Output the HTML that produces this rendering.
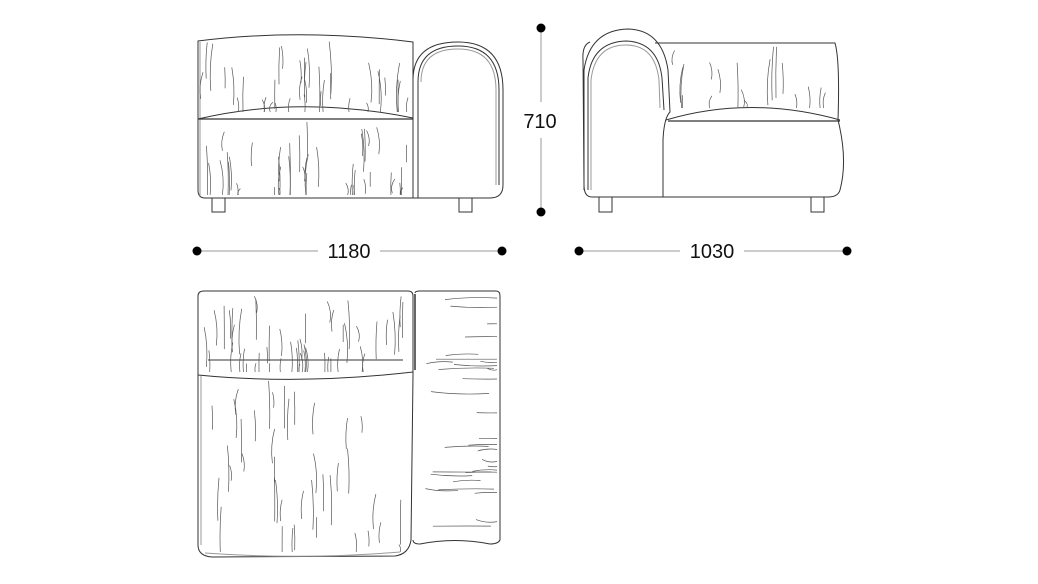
<!DOCTYPE html>
<html><head><meta charset="utf-8"><style>
html,body{margin:0;padding:0;background:#fff;}
svg{display:block;}
text{font-family:"Liberation Sans",Arial,sans-serif;font-size:20px;fill:#111;}
</style></head><body>
<svg id="s" width="1038" height="584" viewBox="0 0 1038 584" xmlns="http://www.w3.org/2000/svg">
<g fill="none" stroke="#333" stroke-width="1">
<path d="M198,41 Q300,28 413,42 L413,198 L205,198 Q198,198 198,190 Z"/>
<line x1="200" y1="42" x2="200" y2="196" stroke="#999"/>
<path d="M198,119 Q300,95 413,118"/>
<line x1="198" y1="119" x2="413" y2="119" stroke-width="1.3"/>
<path d="M413,198 L413,80 Q413,42 458,42 Q503,42 503,90 L503,185 Q503,198 490,198 Z"/>
<path d="M418,198 L418,82 Q418,46 458,46 Q499,46 499,90 L499,185"/>
<path d="M421,82 Q421,49 458,49 Q496,49 496,90 L496,185" stroke="#999"/>
<rect x="212" y="198" width="13" height="14"/>
<rect x="459" y="198" width="13" height="14"/>
<path d="M655,43 L835,43 Q840,60 838,120 Q848,160 840,190 Q838,197 828,197 L592,197 Q584,197 584,185 L583,60 Q582,45 590,42"/>
<path d="M666,120 Q750,95 840,120"/>
<line x1="668" y1="121" x2="840" y2="121" stroke-width="1.3"/>
<path d="M584,190 L584,70 Q590,30 628,29 Q662,30 668,70 L670,112 Q664,118 663,140 L663,197"/>
<path d="M588,190 L588,78 Q592,42 626,41 Q658,42 662,78 L664,110" />
<path d="M591,190 L591,80 Q595,45 626,45 Q655,45 659,80 L660,108" stroke="#999"/>
<rect x="599" y="197" width="13" height="15"/>
<rect x="811" y="197" width="13" height="15"/>
<path d="M198,296 Q198,291 204,291 L408,291 Q413,291 413,296 L413,375 L411,540 Q409,554 395,556 L212,557 Q198,556 198,545 Z"/>
<line x1="201" y1="376" x2="201" y2="545" stroke="#999"/>
<path d="M198,375 Q300,385 413,372"/>
<path d="M208,360 L403,360"/>
<path d="M205,553 Q300,560 400,552" stroke="#999"/>
<path d="M415,293 Q415,291 420,291 L496,291 Q500,291 500,296 L500,540 Q498,544 490,544 Q455,537 420,544 Q413,544 413,540"/>
<line x1="415" y1="294" x2="415" y2="370" stroke-width="1.5"/>
<line x1="541" y1="28" x2="541" y2="102" stroke="#999"/>
<line x1="541" y1="138" x2="541" y2="212" stroke="#999"/>
<line x1="197" y1="251" x2="318" y2="251" stroke="#999"/>
<line x1="380" y1="251" x2="502" y2="251" stroke="#999"/>
<line x1="579" y1="251" x2="680" y2="251" stroke="#999"/>
<line x1="744" y1="251" x2="847" y2="251" stroke="#999"/>
</g>
<g fill="#000">
<circle cx="541" cy="28" r="4.5"/><circle cx="541" cy="212" r="4.5"/>
<circle cx="197" cy="251" r="4.5"/><circle cx="502" cy="251" r="4.5"/>
<circle cx="579" cy="251" r="4.5"/><circle cx="847" cy="251" r="4.5"/>
</g>
<text x="540" y="128" text-anchor="middle">710</text>
<text x="349" y="258" text-anchor="middle">1180</text>
<text x="712" y="258" text-anchor="middle">1030</text>
<g id="h" fill="none" stroke="#555" stroke-width="0.7"></g>
</svg>
<script>
var g=document.getElementById('h'),seed=11;
function r(){seed=(seed*16807)%2147483647;return (seed-1)/2147483646;}
function vert(x0,x1,y0,y1,n){for(var i=0;i<n;i++){var x=x0+r()*(x1-x0),y=y0+r()*(y1-y0),l=14+r()*40;if(y+l>y1)l=y1-y;if(l<6)continue;var dx=(r()-0.5)*10;
var p=document.createElementNS('http://www.w3.org/2000/svg','path');p.setAttribute('d','M'+x.toFixed(1)+','+y.toFixed(1)+' q'+(dx).toFixed(1)+','+(l/2).toFixed(1)+' '+(dx*0.5).toFixed(1)+','+l.toFixed(1));g.appendChild(p);}}
function horz(x0,x1,y0,y1,n){for(var i=0;i<n;i++){var x=x0+r()*(x1-x0),y=y0+r()*(y1-y0),l=25+r()*50;if(x+l>x1)l=x1-x;if(l<8)continue;var dy=(r()-0.5)*8;
var p=document.createElementNS('http://www.w3.org/2000/svg','path');p.setAttribute('d','M'+x.toFixed(1)+','+y.toFixed(1)+' q'+(l/2).toFixed(1)+','+dy.toFixed(1)+' '+l.toFixed(1)+','+(dy*0.5).toFixed(1));g.appendChild(p);}}
vert(203,408,40,112,40);vert(203,408,122,195,45);
vert(672,832,46,108,18);
vert(203,408,295,372,50);vert(205,405,380,552,40);
horz(418,497,296,540,35);
</script>
</body></html>
